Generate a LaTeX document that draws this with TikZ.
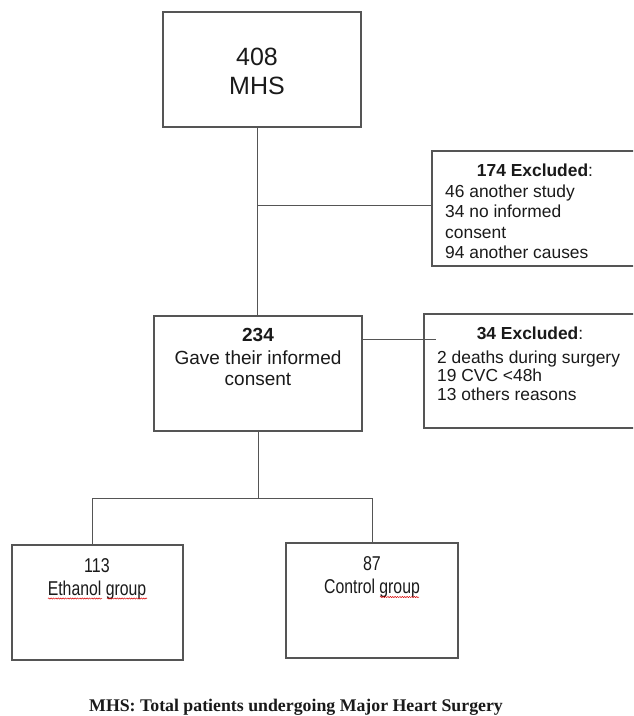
\documentclass[tikz,border=0pt]{standalone}
\usepackage{fontspec}
\setmainfont{Liberation Sans}
\newfontfamily\capfont{Liberation Serif}
\usetikzlibrary{decorations.pathmorphing}
\definecolor{linegray}{HTML}{555555}
\definecolor{txtblack}{HTML}{1A1A1A}
\begin{document}
\begin{tikzpicture}[x=1pt,y=-1pt,
  box/.style={draw=linegray, line width=1.1pt, inner sep=0pt, fill=white},
  conn/.style={draw=linegray, line width=1pt},
  txt/.style={inner sep=0pt, text=txtblack, anchor=base},
  ltxt/.style={inner sep=0pt, text=txtblack, anchor=base west},
  bigf/.style={font=\fontsize{25}{29}\selectfont},
  exf/.style={font=\fontsize{17.4}{20}\selectfont},
  midf/.style={font=\fontsize{19}{22}\selectfont},
  grpf/.style={font=\fontsize{20}{23}\selectfont},
  squig/.style={draw=red!85!black, line width=0.5pt, decorate,
    decoration={snake, amplitude=0.6pt, segment length=2.4pt}}]
\useasboundingbox[fill=white] (0,0) rectangle (633,716);
\clip (0,0) rectangle (633,716);

% connectors
\coordinate (j1) at (257,205);
\coordinate (j2) at (362,339);
\coordinate (j2e) at (436,339);
\coordinate (j3) at (258,498);
\coordinate (bl) at (92,498);
\coordinate (br) at (372,498);

% boxes
\node[box, minimum width=198pt, minimum height=115pt] (top) at (262,69.5) {};
\node[box, minimum width=210pt, minimum height=115pt] (ex1) at (537,208.5) {};
\node[box, minimum width=208pt, minimum height=115pt] (mid) at (258,373.5) {};
\node[box, minimum width=216pt, minimum height=114pt] (ex2) at (532,371) {};
\node[box, minimum width=171pt, minimum height=115pt] (grpA) at (97.5,602.5) {};
\node[box, minimum width=172pt, minimum height=115pt] (grpB) at (372,600.5) {};

\draw[conn] (top.south -| j1) -- (mid.north -| j1);
\draw[conn] (j1) -- (j1 -| ex1.west);
\draw[conn] (mid.east |- j2) -- (j2e);
\draw[conn] (mid.south -| j3) -- (j3);
\draw[conn] (bl) -- (br);
\draw[conn] (bl) -- (bl |- grpA.north);
\draw[conn] (br) -- (br |- grpB.north);

% top box text
\node[txt, bigf] (t1) at (257,65) {408};
\node[txt, bigf] (t2) at (257,94) {MHS};

% excluded 1
\node[txt, exf] (e1h) at (535,176) {\textbf{174 Excluded}:};
\node[ltxt, exf] (e1a) at (445,197) {46 another study};
\node[ltxt, exf] (e1b) at (445,217) {34 no informed};
\node[ltxt, exf] (e1c) at (445,238) {consent};
\node[ltxt, exf] (e1d) at (445,258) {94 another causes};

% middle
\node[txt, midf] (m1) at (258,341) {\textbf{234}};
\node[txt, midf] (m2) at (258,364) {Gave their informed};
\node[txt, midf] (m3) at (258,385) {consent};

% excluded 2
\node[txt, exf] (e2h) at (530,339) {\textbf{34 Excluded}:};
\node[ltxt, exf] (e2a) at (437,363) {2 deaths during surgery};
\node[ltxt, exf] (e2b) at (437,381) {19 CVC <48h};
\node[ltxt, exf] (e2c) at (437,400) {13 others reasons};

% groups
\node[txt, grpf] (g1) at (97,572.5) {\scalebox{0.8}[1]{113}};
\node[txt, grpf] (g2) at (97,595) {\scalebox{0.79}[1]{Ethanol group}};
\node[txt, grpf] (g3) at (372,570) {\scalebox{0.8}[1]{87}};
\node[txt, grpf] (g4) at (372,593) {\scalebox{0.79}[1]{Control group}};

\coordinate (s1a) at (48,598.5); \coordinate (s1b) at (102,598.5);
\coordinate (s2a) at (107,598.5); \coordinate (s2b) at (147,598.5);
\coordinate (s3a) at (380,597); \coordinate (s3b) at (419,597);
\draw[squig] (s1a) -- (s1b);
\draw[squig] (s2a) -- (s2b);
\draw[squig] (s3a) -- (s3b);

% caption
\node[ltxt, font=\capfont\bfseries\fontsize{17.8}{20}\selectfont] (cap) at (89,711.5) {MHS: Total patients undergoing Major Heart Surgery};
\end{tikzpicture}
\end{document}
